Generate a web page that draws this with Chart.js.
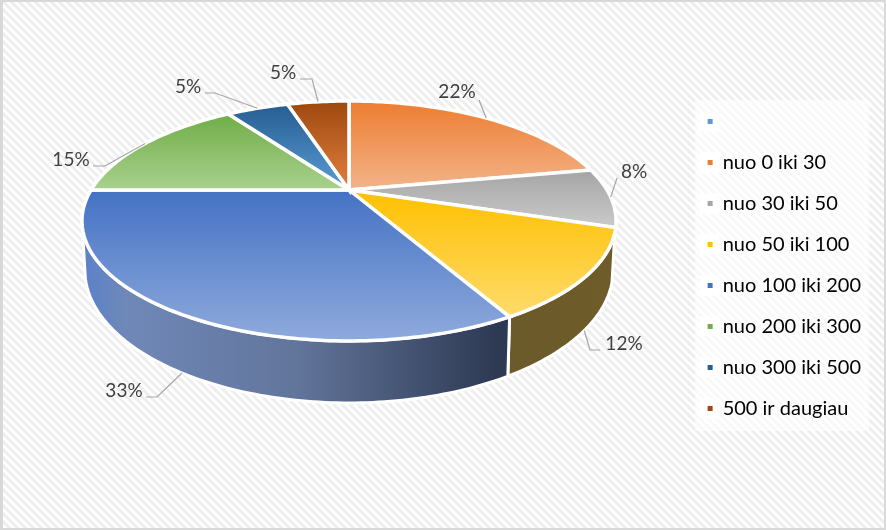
<!DOCTYPE html>
<html>
<head>
<meta charset="utf-8">
<style>
  html, body { margin: 0; padding: 0; background: #fff; }
  canvas { display: block; }
</style>
<script src="https://cdn.jsdelivr.net/npm/chart.js@4/dist/chart.umd.js"></script>
</head>
<body>
<canvas id="pie" width="886" height="530"></canvas>
<script>
"use strict";

const categories = ["", "nuo 0 iki 30", "nuo 30 iki 50", "nuo 50 iki 100", "nuo 100 iki 200", "nuo 200 iki 300", "nuo 300 iki 500", "500 ir daugiau"];
const shares = [0, 22, 8, 12, 33, 15.4, 4.8, 4.8];
const percentLabels = ["", "22%", "8%", "12%", "33%", "15%", "5%", "5%"];

//slice colours, top of the gradient and bottom of the gradient
const topColors = ["#5b9bd5", "#ed7d31", "#a5a5a5", "#ffc000", "#4472c4", "#70ad47", "#255e91", "#9e480e"];
const bottomColors = ["#9dc3e6", "#f2b48a", "#cacaca", "#fedb6c", "#8faadc", "#a9d18e", "#5b9bd5", "#e2803f"];

//projection of the pie disc (tilted circle with perspective)
const view = { cx: 349, cy: 190, a: 258, b: 112, k: 0.258, drop: 46, shrink: 0.989 };
const wallFrom = 110, wallTo = 252;
const RAD = Math.PI / 180;

//label centres and leader line start / elbow, by slice
const labelSpots = [
  null,
  { x: 457, y: 92, line: [[479, 100]] },
  { x: 634, y: 172, line: [[617, 178]] },
  { x: 624, y: 344, line: [[600, 350], [590, 350]], low: true },
  { x: 124, y: 391, line: [[146, 397], [157, 397]], low: true },
  { x: 71, y: 160, line: [[93, 166], [105, 166]] },
  { x: 188, y: 87, line: [[205, 93], [215, 93]] },
  { x: 283, y: 73, line: [[300, 79], [312, 79]] }
];

function rimPoint(deg) {
  const X = Math.sin(deg * RAD), Z = Math.cos(deg * RAD);
  const w = 1 + view.k * Z;
  return { x: view.cx + view.a * X / w, y: view.cy - view.b * Z / w };
}
function floorPoint(deg) {
  const X = Math.sin(deg * RAD), Z = Math.cos(deg * RAD);
  const w = 1 + view.k * Z;
  return { x: view.cx + view.a * view.shrink * X / w, y: view.cy + (view.drop - view.b * Z) / w };
}
function toDeg(a) { return a / RAD + 90; }

//arc element which draws itself on the tilted disc
class Arc3D extends Chart.ArcElement {
  draw(ctx) {
    const from = toDeg(this.startAngle), to = toDeg(this.endAngle);
    if (to - from <= 0) return;
    const pts = [];
    for (let d = from; d < to; d += 1) pts.push(rimPoint(d));
    pts.push(rimPoint(to));
    let top = view.cy, bottom = view.cy;
    pts.forEach(p => { top = Math.min(top, p.y); bottom = Math.max(bottom, p.y); });
    const grad = ctx.createLinearGradient(0, top, 0, bottom);
    grad.addColorStop(0, this.options.backgroundColor);
    grad.addColorStop(1, bottomColors[this.$index]);
    ctx.save();
    ctx.beginPath();
    ctx.moveTo(view.cx, view.cy);
    pts.forEach(p => ctx.lineTo(p.x, p.y));
    ctx.closePath();
    ctx.fillStyle = grad;
    ctx.fill();
    ctx.lineWidth = 3.5;
    ctx.strokeStyle = "#fff";
    ctx.lineJoin = "miter";
    ctx.stroke();
    ctx.restore();
  }
}
Arc3D.id = "arc3d";

class Pie3D extends Chart.PieController {
  draw() {
    const ctx = this.chart.ctx;
    const meta = this.getMeta();
    //side walls first, the slices go on top
    meta.data.forEach((arc, i) => {
      arc.$index = i;
      const from = Math.max(toDeg(arc.startAngle), wallFrom), to = Math.min(toDeg(arc.endAngle), wallTo);
      if (to <= from) return;
      ctx.save();
      ctx.beginPath();
      for (let d = from; d < to; d += 1) { const p = rimPoint(d); ctx.lineTo(p.x, p.y); }
      const end = rimPoint(to); ctx.lineTo(end.x, end.y);
      for (let d = to; d > from; d -= 1) { const p = floorPoint(d); ctx.lineTo(p.x, p.y); }
      const last = floorPoint(from); ctx.lineTo(last.x, last.y);
      ctx.closePath();
      ctx.fillStyle = wallGradient(ctx, i);
      ctx.fill();
      ctx.lineWidth = 3;
      ctx.strokeStyle = "#fff";
      ctx.stroke();
      ctx.restore();
    });
    super.draw();
  }
}
Pie3D.id = "pie3d";
Pie3D.defaults = { dataElementType: "arc3d" };

function wallGradient(ctx, i) {
  const grad = ctx.createLinearGradient(85, 0, 612, 0);
  if (i === 4) {
    grad.addColorStop(0, "#5c82c8");
    grad.addColorStop(0.08, "#6f88b8");
    grad.addColorStop(0.4, "#62759b");
    grad.addColorStop(0.78, "#2e3a54");
    grad.addColorStop(1, "#2e3a54");
  } else {
    grad.addColorStop(0, "#5f5028");
    grad.addColorStop(1, "#6e5c2a");
  }
  return grad;
}

Chart.register(Arc3D, Pie3D);

function hatch() {
  const tile = document.createElement("canvas");
  tile.width = 8; tile.height = 8;
  const t = tile.getContext("2d");
  t.fillStyle = "#fff";
  t.fillRect(0, 0, 8, 8);
  t.fillStyle = "#eeeeee";
  for (let y = 0; y < 8; y++) {
    for (let x = 0; x < 8; x++) {
      if (((x - y) % 8 + 8) % 8 < 4) t.fillRect(x, y, 1, 1);
    }
  }
  return tile;
}

const backdrop = {
  id: "backdrop",
  beforeDraw(chart) {
    const ctx = chart.ctx;
    ctx.save();
    ctx.fillStyle = ctx.createPattern(hatch(), "repeat");
    ctx.fillRect(0, 0, 886, 530);
    ctx.fillStyle = "#d9d9d9";
    ctx.fillRect(0, 0, 886, 2);
    ctx.fillRect(0, 0, 3, 530);
    ctx.fillRect(884, 0, 2, 530);
    ctx.fillRect(0, 528, 886, 2);
    //legend backing
    ctx.fillStyle = "rgba(255,255,255,0.65)";
    ctx.fillRect(695, 100, 174, 331);
    ctx.fillStyle = "rgba(255,255,255,0.9)";
    chart.legend.legendHitBoxes.forEach(b => {
      ctx.fillRect(b.left - 8, b.top + b.height / 2 - 10, 20, 20);
    });
    ctx.restore();
  }
};

const percentText = {
  id: "percentText",
  afterDatasetsDraw(chart) {
    const ctx = chart.ctx;
    const meta = chart.getDatasetMeta(0);
    ctx.save();
    meta.data.forEach((arc, i) => {
      const spot = labelSpots[i];
      if (!spot) return;
      const mid = (toDeg(arc.startAngle) + toDeg(arc.endAngle)) / 2;
      const end = spot.low ? floorPoint(mid) : rimPoint(mid);
      ctx.beginPath();
      spot.line.forEach((p, n) => n ? ctx.lineTo(p[0], p[1]) : ctx.moveTo(p[0], p[1]));
      ctx.lineTo(end.x, end.y);
      ctx.lineWidth = 1.2;
      ctx.strokeStyle = "#a6a6a6";
      ctx.stroke();
      ctx.fillStyle = "#404040";
      ctx.font = "19px Lato";
      ctx.textAlign = "center";
      ctx.textBaseline = "middle";
      ctx.fillText(percentLabels[i], spot.x, spot.y);
    });
    ctx.restore();
  }
};

new Chart(document.getElementById("pie"), {
  type: "pie3d",
  data: {
    labels: categories,
    datasets: [{ data: shares, backgroundColor: topColors }]
  },
  options: {
    responsive: false,
    animation: false,
    devicePixelRatio: 1,
    layout: { padding: { right: 15 } },
    plugins: {
      tooltip: { enabled: false },
      legend: {
        position: "right",
        labels: {
          color: "#595959",
          font: { family: "Lato", size: 20 },
          usePointStyle: true,
          boxWidth: 5,
          boxHeight: 5,
          padding: 21,
          generateLabels: chart => chart.data.labels.map((text, i) => ({
            text: text,
            fillStyle: topColors[i],
            strokeStyle: topColors[i],
            lineWidth: 0,
            pointStyle: "rect",
            index: i
          }))
        }
      }
    }
  },
  plugins: [backdrop, percentText]
});
</script>
</body>
</html>
